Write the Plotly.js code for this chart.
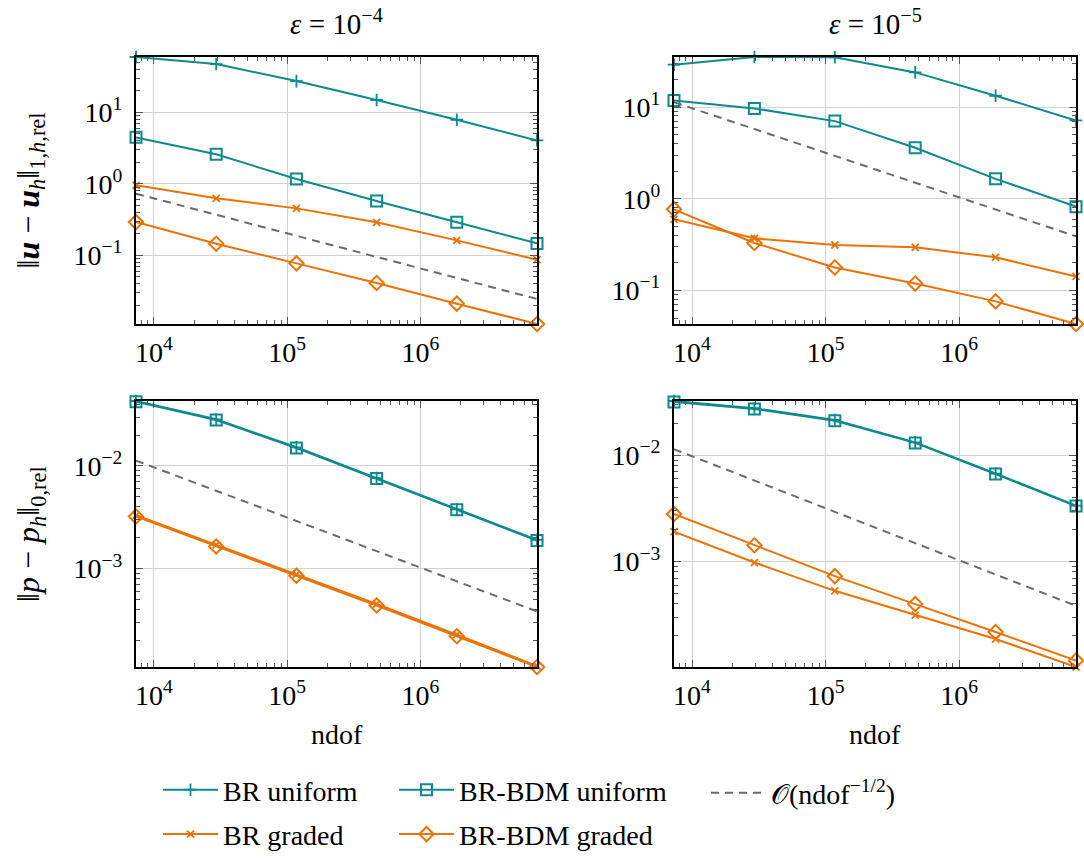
<!DOCTYPE html>
<html>
<head>
<meta charset="utf-8">
<script src="https://cdn.plot.ly/plotly-3.0.1.min.js"></script>
<style>
  html, body { margin: 0; padding: 0; background: #fff; }
  #chart { width: 1084px; height: 859px; }
</style>
</head>
<body>
<div id="chart"></div>
<script>
// Degrees of freedom on the successively refined meshes
const ndof = [7330, 29320, 117300, 469100, 1876000, 7505000];

// Relative velocity error ||u - u_h||_{1,h,rel}, eps = 1e-4
const velE4BrUniform    = [59.5, 47.4, 27.4, 14.9, 7.89, 4.05];
const velE4BdmUniform   = [4.47, 2.59, 1.17, 0.575, 0.290, 0.147];
const velE4BrGraded     = [0.953, 0.627, 0.454, 0.290, 0.162, 0.0869];
const velE4BdmGraded    = [0.292, 0.1455, 0.0773, 0.0410, 0.0211, 0.01096];
const velE4Rate         = [0.729, 0.0245];

// Relative velocity error, eps = 1e-5
const velE5BrUniform    = [29.0, 35.2, 35.0, 23.9, 13.3, 7.15];
const velE5BdmUniform   = [11.8, 9.67, 7.03, 3.60, 1.65, 0.820];
const velE5BrGraded     = [0.597, 0.370, 0.313, 0.295, 0.2296, 0.142];
const velE5BdmGraded    = [0.767, 0.329, 0.178, 0.119, 0.0759, 0.0430];
const velE5Rate         = [11.3, 0.389];

// Relative pressure error ||p - p_h||_{0,rel}, eps = 1e-4
const preE4BrUniform    = [0.0430, 0.0285, 0.0152, 0.00760, 0.00377, 0.00190];
const preE4BdmUniform   = [0.0422, 0.0281, 0.01496, 0.00753, 0.00373, 0.001876];
const preE4BrGraded     = [0.00330, 0.00170, 0.000875, 0.000450, 0.000226, 0.000112];
const preE4BdmGraded    = [0.00321, 0.001637, 0.000849, 0.000436, 0.000218, 0.0001094];
const preE4Rate         = [0.01127, 0.000381];

// Relative pressure error, eps = 1e-5
const preE5BrUniform    = [0.0323, 0.0276, 0.0214, 0.0132, 0.00672, 0.00336];
const preE5BdmUniform   = [0.0316, 0.0272, 0.0211, 0.01305, 0.00664, 0.00332];
const preE5BrGraded     = [0.00191, 0.000979, 0.000531, 0.000314, 0.000187, 0.0001021];
const preE5BdmGraded    = [0.00280, 0.001422, 0.000729, 0.000398, 0.000218, 0.0001172];
const preE5Rate         = [0.01138, 0.000384];

const seriesNames = ['BR uniform', 'BR-BDM uniform', 'BR graded', 'BR-BDM graded'];
const rateName = '𝒪(ndof<sup>−1/2</sup>)';
const columnTitles = ['<i>ε</i> = 10<sup>−4</sup>', '<i>ε</i> = 10<sup>−5</sup>'];
const xTitle = 'ndof';
const velTitle = '‖<b><i>u</i></b> − <b><i>u</i></b><sub><i>h</i></sub>‖<sub>1,<i>h</i>,rel</sub>';
const preTitle = '‖<i>p</i> − <i>p</i><sub><i>h</i></sub>‖<sub>0,rel</sub>';

const FONT = "'Liberation Serif', 'DejaVu Serif', serif";
const FS = 28;
const TEAL = '#0b8a8f';
const ORANGE = '#ee7203';
const GREY = '#6b6b6b';
const W = 1084, H = 859;

const styles = [
  { color: TEAL,   symbol: 'cross-thin',   size: 9,  lw: 1.8, legend: 'legend'  },
  { color: TEAL,   symbol: 'square-open',  size: 11, lw: 2,   legend: 'legend2' },
  { color: ORANGE, symbol: 'x-thin',       size: 7,  lw: 1.8, legend: 'legend'  },
  { color: ORANGE, symbol: 'diamond-open', size: 11, lw: 2,   legend: 'legend2' }
];

const panels = [
  { xa: 'x',  ya: 'y',  series: [velE4BrUniform, velE4BdmUniform, velE4BrGraded, velE4BdmGraded], rate: velE4Rate },
  { xa: 'x2', ya: 'y2', series: [velE5BrUniform, velE5BdmUniform, velE5BrGraded, velE5BdmGraded], rate: velE5Rate },
  { xa: 'x3', ya: 'y3', series: [preE4BrUniform, preE4BdmUniform, preE4BrGraded, preE4BdmGraded], rate: preE4Rate },
  { xa: 'x4', ya: 'y4', series: [preE5BrUniform, preE5BdmUniform, preE5BrGraded, preE5BdmGraded], rate: preE5Rate }
];

const traces = [];
panels.forEach((p, pi) => {
  p.series.forEach((vals, si) => {
    const s = styles[si];
    traces.push({
      x: ndof, y: vals, xaxis: p.xa, yaxis: p.ya,
      type: 'scatter', mode: 'lines+markers', cliponaxis: false,
      name: seriesNames[si], legendgroup: seriesNames[si], legend: s.legend,
      showlegend: pi === 0,
      line: { color: s.color, width: 2 },
      marker: { symbol: s.symbol, size: s.size, color: s.color,
                line: { color: s.color, width: s.lw } }
    });
  });
  traces.push({
    x: [ndof[0], ndof[ndof.length - 1]], y: p.rate, xaxis: p.xa, yaxis: p.ya,
    type: 'scatter', mode: 'lines',
    name: rateName, legendgroup: 'rate', legend: 'legend3', showlegend: pi === 0,
    line: { color: GREY, width: 2, dash: '8px,6px' }
  });
});

// minor tick positions 2..9 in every decade
function minorTicks(lo, hi) {
  const v = [];
  for (let k = lo; k <= hi; k++) for (let m = 2; m <= 9; m++) v.push(m * Math.pow(10, k));
  return v;
}
function sup(e) { return '10<sup>' + (e < 0 ? '−' + (-e) : e) + '</sup>'; }

function logAxis(domain, range, exps, anchor, minorLo, minorHi, standoff) {
  return {
    type: 'log', domain: domain, range: range, anchor: anchor, autorange: false,
    tickmode: 'array', tickvals: exps.map(e => Math.pow(10, e)), ticktext: exps.map(sup),
    ticks: 'inside', ticklen: 7, tickwidth: 1, tickcolor: '#555', ticklabelstandoff: standoff,
    showline: true, linecolor: '#000', linewidth: 2, mirror: 'ticks',
    showgrid: true, gridcolor: '#d2d2d2', gridwidth: 1, zeroline: false,
    tickfont: { family: FONT, size: FS, color: '#000' },
    minor: { tickmode: 'array', tickvals: minorTicks(minorLo, minorHi), ticks: 'inside',
             ticklen: 4, tickwidth: 1, tickcolor: '#555', showgrid: false }
  };
}

// axis spans the data exactly; the tiny pad keeps the end markers inside the range test
const PAD = 1e-6;
function yRange(p) {
  const all = [].concat(...p.series);
  return [Math.log10(Math.min(...all)) - PAD, Math.log10(Math.max(...all)) + PAD];
}
const xRange = [Math.log10(ndof[0]) - PAD, Math.log10(ndof[ndof.length - 1]) + PAD];

const xDomL = [136 / W, 537 / W];
const xDomR = [674 / W, 1076 / W];
const yDomT = [1 - 324 / H, 1 - 57 / H];
const yDomB = [1 - 667 / H, 1 - 401 / H];

// two-row legends sit on the bottom edge; the single-entry one lines up with the first row
function legendAt(px, topPx) {
  const pos = topPx === undefined
    ? { y: 0, yanchor: 'bottom' }
    : { y: 1 - topPx / H, yanchor: 'top' };
  return Object.assign({ x: px / W, xanchor: 'left', orientation: 'v',
           bgcolor: 'rgba(0,0,0,0)', itemwidth: 55, tracegroupgap: 5,
           font: { family: FONT, size: FS } }, pos);
}
function note(text, x, y, extra) {
  return Object.assign({ text: text, x: x, y: y, xref: 'paper', yref: 'paper',
    xanchor: 'center', yanchor: 'middle', showarrow: false,
    font: { family: FONT, size: FS, color: '#000' } }, extra || {});
}

const layout = {
  width: W, height: H,
  margin: { l: 0, r: 0, t: 0, b: 0 },
  paper_bgcolor: '#fff', plot_bgcolor: '#fff',
  font: { family: FONT, size: FS, color: '#000' },
  xaxis:  logAxis(xDomL, xRange, [4, 5, 6], 'y',  3, 6, 2),
  xaxis2: logAxis(xDomR, xRange, [4, 5, 6], 'y2', 3, 6, 2),
  xaxis3: logAxis(xDomL, xRange, [4, 5, 6], 'y3', 3, 6, 2),
  xaxis4: logAxis(xDomR, xRange, [4, 5, 6], 'y4', 3, 6, 2),
  yaxis:  logAxis(yDomT, yRange(panels[0]), [-1, 0, 1], 'x',  -3, 2, 6),
  yaxis2: logAxis(yDomT, yRange(panels[1]), [-1, 0, 1], 'x2', -3, 2, 6),
  yaxis3: logAxis(yDomB, yRange(panels[2]), [-3, -2], 'x3', -5, -1, 6),
  yaxis4: logAxis(yDomB, yRange(panels[3]), [-3, -2], 'x4', -5, -1, 6),
  legend:  legendAt(158),
  legend2: legendAt(394),
  legend3: legendAt(706, 768),
  annotations: [
    note(columnTitles[0], (xDomL[0] + xDomL[1]) / 2, 1 - 22 / H, { font: { family: FONT, size: 29, color: '#000' } }),
    note(columnTitles[1], (xDomR[0] + xDomR[1]) / 2, 1 - 22 / H, { font: { family: FONT, size: 29, color: '#000' } }),
    note(xTitle, (xDomL[0] + xDomL[1]) / 2, 1 - 734 / H),
    note(xTitle, (xDomR[0] + xDomR[1]) / 2, 1 - 734 / H),
    note(velTitle, 30 / W, (yDomT[0] + yDomT[1]) / 2,
         { textangle: -90, font: { family: FONT, size: 32, color: '#000' } }),
    note(preTitle, 30 / W, (yDomB[0] + yDomB[1]) / 2,
         { textangle: -90, font: { family: FONT, size: 32, color: '#000' } })
  ]
};

Plotly.newPlot('chart', traces, layout, { staticPlot: true, displayModeBar: false });
</script>
</body>
</html>
